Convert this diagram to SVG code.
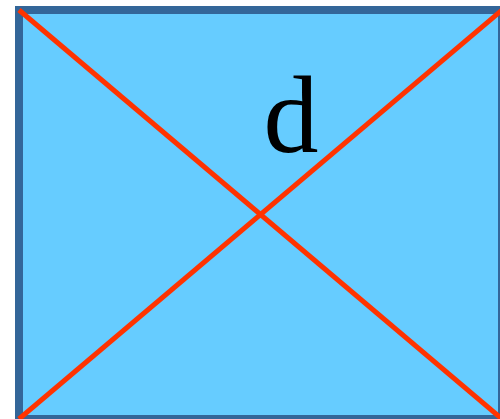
<svg xmlns="http://www.w3.org/2000/svg" width="500" height="419" viewBox="0 0 500 419">
<style>
.box{fill:#66CCFF;stroke:#336699;stroke-width:8}
.diag{stroke:#FF3300;stroke-width:5;fill:none}
.lbl{font-family:"Liberation Serif","Times New Roman",serif;font-size:110px;fill:#000}
</style>
<g id="rect">
<rect class="box" x="19" y="10" width="483" height="409"/>
</g>
<g id="connectors">
<line class="diag" x1="19" y1="10" x2="502" y2="419"/>
<line class="diag" x1="19" y1="419" x2="502" y2="10"/>
</g>
<g id="label">
<text class="lbl" x="291" y="152" text-anchor="middle">d</text>
</g>
</svg>
